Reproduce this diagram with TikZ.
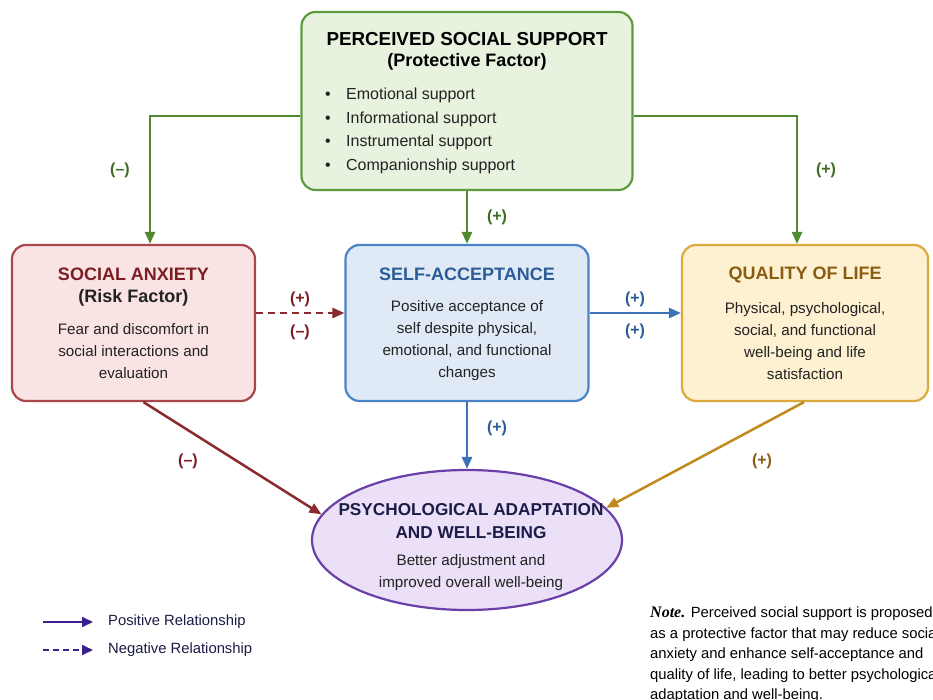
\documentclass[tikz,border=0pt]{standalone}
\usepackage{fontspec}
\setmainfont{Liberation Sans}
\newfontfamily\notefont{Liberation Serif}
\usetikzlibrary{arrows.meta,shapes.geometric}

\definecolor{grnline}{HTML}{5E9B40}
\definecolor{grnfill}{HTML}{E8F3DF}
\definecolor{grnarrow}{HTML}{4F8A2E}
\definecolor{grnlabel}{HTML}{3D6B22}
\definecolor{redline}{HTML}{A8474C}
\definecolor{redfill}{HTML}{FAE3E3}
\definecolor{redtitle}{HTML}{7B1E24}
\definecolor{redarrow}{HTML}{8B2A2E}
\definecolor{bluline}{HTML}{4A84C8}
\definecolor{blufill}{HTML}{E0EAF6}
\definecolor{blutitle}{HTML}{2B5C98}
\definecolor{bluarrow}{HTML}{3D72B8}
\definecolor{gldline}{HTML}{DCAA3C}
\definecolor{gldfill}{HTML}{FDF1D2}
\definecolor{gldtitle}{HTML}{8A5C12}
\definecolor{gldarrow}{HTML}{C08A1C}
\definecolor{purline}{HTML}{6B3FA8}
\definecolor{purfill}{HTML}{EBE0F7}
\definecolor{purtitle}{HTML}{1C1C48}
\definecolor{legend}{HTML}{3B1F8C}
\definecolor{bodytext}{HTML}{222222}

\tikzset{
  box/.style={draw, line width=2.2pt, rounded corners=14pt, inner sep=0pt},
  title/.style={font=\fontsize{18}{23}\selectfont\bfseries, align=center, inner sep=0pt},
  body/.style={font=\fontsize{15.2}{22}\selectfont, text=bodytext, align=center, inner sep=0pt},
  rel/.style={line width=2.5pt, -{Triangle[length=12pt,width=10pt]}},
  sign/.style={font=\fontsize{16}{18}\selectfont\bfseries, inner sep=0pt},
  legtext/.style={font=\fontsize{14.8}{17}\selectfont, text=purtitle, anchor=west, inner sep=0pt},
}

\begin{document}
\begin{tikzpicture}[x=1pt, y=-1pt]
\useasboundingbox[fill=white] (0,0) rectangle (933,700);

% ---- boxes ----
\node[box, draw=grnline, fill=grnfill, minimum width=331pt, minimum height=178pt] (pss) at (467,101) {};
\node[box, draw=redline, fill=redfill, minimum width=243pt, minimum height=156pt] (sa) at (133.5,323) {};
\node[box, draw=bluline, fill=blufill, minimum width=243pt, minimum height=156pt] (self) at (467,323) {};
\node[box, draw=gldline, fill=gldfill, minimum width=246pt, minimum height=156pt] (qol) at (805,323) {};
\node[ellipse, draw=purline, fill=purfill, line width=2.2pt, inner sep=0pt,
      minimum width=310pt, minimum height=140pt] (pa) at (467,540) {};

% ---- box texts ----
\node[title, font=\fontsize{18.8}{23}\selectfont\bfseries] (psst) at (467,39) {PERCEIVED SOCIAL SUPPORT};
\node[title] (pssf) at (467,62) {(Protective Factor)};
\node[body, align=left, anchor=west, font=\fontsize{16}{23.5}\selectfont] (pssl) at (325,131)
  {\makebox[21pt][l]{•}Emotional support\\
   \makebox[21pt][l]{•}Informational support\\
   \makebox[21pt][l]{•}Instrumental support\\
   \makebox[21pt][l]{•}Companionship support};

\node[title, text=redtitle] (sat) at (133.5,274) {SOCIAL ANXIETY};
\node[title, text=bodytext] (saf) at (133.5,298) {(Risk Factor)};
\node[body] (sab) at (133.5,351) {Fear and discomfort in\\ social interactions and\\ evaluation};

\node[title, text=blutitle] (selft) at (467,274) {SELF-ACCEPTANCE};
\node[body] (selfb) at (467,341) {Positive acceptance of\\ self despite physical,\\ emotional, and functional\\ changes};

\node[title, text=gldtitle] (qolt) at (805,275) {QUALITY OF LIFE};
\node[body] (qolb) at (805,341) {Physical, psychological,\\ social, and functional\\ well-being and life\\ satisfaction};

\node[title, text=purtitle, font=\fontsize{17.2}{23}\selectfont\bfseries] (pat) at (471,521) {PSYCHOLOGICAL ADAPTATION\\ AND WELL-BEING};
\node[body] (pab) at (471,573) {Better adjustment and\\ improved overall well-being};

% ---- connectors ----
\draw[rel, draw=grnarrow] ([yshift=-15pt]pss.west) -| ([xshift=16.5pt]sa.north);
\draw[rel, draw=grnarrow] ([yshift=-15pt]pss.east) -| ([xshift=-8pt]qol.north);
\draw[rel, draw=grnarrow] (pss.south) -- (self.north);
\draw[rel, dash pattern=on 7pt off 5pt, draw=redarrow] ([yshift=10pt]sa.east) -- ([yshift=10pt]self.west);
\draw[rel, draw=bluarrow] ([yshift=10pt]self.east) -- ([yshift=10pt]qol.west);
\draw[rel, draw=bluarrow] (self.south) -- (pa.north);
\draw[rel, draw=redarrow] ([xshift=10pt]sa.south) -- (pa.170);
\draw[rel, draw=gldarrow] ([xshift=-1pt]qol.south) -- (pa.13);

% ---- signs ----
\node[sign, text=grnlabel] (s1) at (120,170) {(–)};
\node[sign, text=grnlabel] (s2) at (826,170) {(+)};
\node[sign, text=grnlabel] (s3) at (497,217) {(+)};
\node[sign, text=redtitle] (s4) at (300,299) {(+)};
\node[sign, text=redtitle] (s5) at (300,332) {(–)};
\node[sign, text=blutitle] (s6) at (635,299) {(+)};
\node[sign, text=blutitle] (s7) at (635,331) {(+)};
\node[sign, text=blutitle] (s8) at (497,428) {(+)};
\node[sign, text=redtitle] (s9) at (188,461) {(–)};
\node[sign, text=gldtitle] (s10) at (762,461) {(+)};

% ---- legend ----
\coordinate (lp1) at (43,622);
\coordinate (lp2) at (93,622);
\coordinate (ln1) at (43,650);
\coordinate (ln2) at (93,650);
\draw[line width=2pt, draw=legend, -{Triangle[length=11pt,width=10pt]}] (lp1) -- (lp2);
\draw[line width=2pt, draw=legend, dash pattern=on 6pt off 4pt, -{Triangle[length=11pt,width=10pt]}] (ln1) -- (ln2);
\node[legtext] (lpt) at (108,622) {Positive Relationship};
\node[legtext] (lnt) at (108,650) {Negative Relationship};

% ---- note (runs past the right edge of the page) ----
\node[anchor=north west, align=left, inner sep=0pt, text=black,
      font=\fontsize{14.8}{20.5}\selectfont] (note) at (650,607)
  {{\notefont\fontsize{16}{20.5}\selectfont\bfseries\itshape Note.} Perceived social support is proposed\\
   as a protective factor that may reduce social\\
   anxiety and enhance self-acceptance and\\
   quality of life, leading to better psychological\\
   adaptation and well-being.};
\end{tikzpicture}
\end{document}
